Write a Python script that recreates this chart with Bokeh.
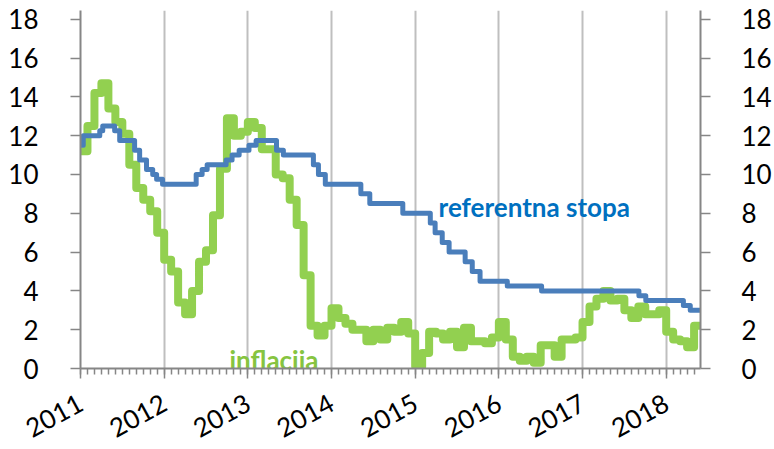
import pandas as pd
from bokeh.plotting import figure
from bokeh.models import Range1d, LinearAxis, FixedTicker
from bokeh.core.properties import value
from bokeh.embed import file_html
from bokeh.resources import INLINE

# ---- data ----
years = [2011, 2012, 2013, 2014, 2015, 2016, 2017, 2018]
y_ticks = [0, 2, 4, 6, 8, 10, 12, 14, 16, 18]

# monthly inflation, Jan 2011 .. May 2018
inflacija = [
    11.2, 12.5, 14.2, 14.7, 13.4, 12.7, 12.1, 10.5, 9.3, 8.7, 8.1, 7.0,   # 2011
    5.6, 5.0, 3.4, 2.8, 4.0, 5.5, 6.1, 7.9, 10.3, 12.9, 12.0, 12.2,       # 2012
    12.7, 12.4, 11.3, 11.3, 10.0, 9.8, 8.7, 7.4, 4.8, 2.2, 1.7, 2.2,      # 2013
    3.1, 2.6, 2.3, 2.0, 2.0, 1.4, 2.0, 1.5, 2.1, 1.9, 2.4, 1.8,           # 2014
    0.1, 0.8, 1.9, 1.8, 1.5, 1.9, 1.1, 2.1, 1.4, 1.4, 1.3, 1.6,           # 2015
    2.4, 1.5, 0.6, 0.4, 0.6, 0.3, 1.2, 1.2, 0.6, 1.5, 1.5, 1.6,           # 2016
    2.4, 3.2, 3.6, 4.0, 3.5, 3.6, 3.0, 2.6, 3.2, 2.8, 2.8, 3.0,           # 2017
    1.9, 1.5, 1.4, 1.1, 2.2,                                              # 2018
]

# key policy rate: dates of change and new rate
stopa_dates = [
    "2011-01-01", "2011-01-13", "2011-03-26", "2011-04-08", "2011-05-30",
    "2011-06-21", "2011-08-25", "2011-09-16", "2011-10-16", "2011-11-12",
    "2011-11-29", "2011-12-25", "2012-05-20", "2012-06-15", "2012-07-07",
    "2012-09-28", "2012-10-24", "2012-11-24", "2013-01-06", "2013-02-06",
    "2013-05-06", "2013-06-05", "2013-10-14", "2013-11-05", "2013-12-05",
    "2014-05-09", "2014-06-17", "2014-11-08", "2015-03-08", "2015-03-29",
    "2015-04-29", "2015-05-29", "2015-08-07", "2015-09-07", "2015-10-11",
    "2016-02-07", "2016-07-06", "2017-09-04", "2017-10-04", "2018-03-17",
    "2018-04-16", "2018-05-31",
]
stopa = [
    11.5, 12.0, 12.25, 12.5, 12.25,
    11.75, 11.25, 10.75, 10.25, 10.0,
    9.75, 9.5, 10.0, 10.25, 10.5,
    10.75, 11.0, 11.25, 11.5, 11.75,
    11.25, 11.0, 10.5, 10.0, 9.5,
    9.0, 8.5, 8.0, 7.5, 7.0,
    6.5, 6.0, 5.5, 5.0, 4.5,
    4.25, 4.0, 3.75, 3.5, 3.25,
    3.0, 3.0,
]

end_date = "2018-06-01"


def dec_year(s):
    t = pd.Timestamp(s)
    n = 366 if t.is_leap_year else 365
    return t.year + (t.dayofyear - 1) / n


x_end = dec_year(end_date)
x_infl = [2011 + m / 12 for m in range(len(inflacija))] + [x_end]
y_infl = inflacija + [inflacija[-1]]
x_stopa = [dec_year(d) for d in stopa_dates]

months = [2011 + m / 12 for m in range(0, 90)]

p = figure(width=774, height=449, output_backend="svg", toolbar_location=None,
           x_range=Range1d(2011.0, 2018.41), y_range=Range1d(0, 18.45),
           min_border_left=80, min_border_right=70, min_border_top=10,
           min_border_bottom=78)
p.outline_line_color = None
p.background_fill_color = "white"

AX = "#868686"
FONT = "Lato"

p.step(x_infl, y_infl, mode="after", line_color="#92D050", line_width=8,
       line_join="round")
p.step(x_stopa, stopa, mode="after", line_color="#4A7EBB", line_width=5,
       line_join="round")

p.text(x=[2015.28], y=[8.3], text=["referentna stopa"], text_font=value(FONT),
       text_font_style="bold", text_font_size="26px", text_color="#0070C0",
       text_baseline="alphabetic", text_align="left")
p.text(x=[2012.78], y=[0.45], text=["inflacija"], text_font=value(FONT),
       text_font_style="bold", text_font_size="26px", text_color="#86C440",
       text_baseline="alphabetic", text_align="left")

# x axis
xa = p.xaxis[0]
xa.ticker = FixedTicker(ticks=years, minor_ticks=months)
xa.major_label_orientation = 0.5
xa.minor_tick_out = 6
xa.minor_tick_in = 0
xa.minor_tick_line_color = AX
xa.minor_tick_line_width = 1.5

# y axes
ya = p.yaxis[0]
ya.ticker = FixedTicker(ticks=y_ticks)
ra = LinearAxis(ticker=FixedTicker(ticks=y_ticks))
p.add_layout(ra, "right")

for ax in [xa, ya, ra]:
    ax.axis_line_color = AX
    ax.axis_line_width = 2
    ax.major_tick_line_color = AX
    ax.major_tick_line_width = 1.5
    ax.major_tick_out = 10
    ax.major_tick_in = 0
    ax.major_label_text_font = FONT
    ax.major_label_text_font_size = "26px"
    ax.major_label_text_color = "black"
for ax in [ya, ra]:
    ax.minor_tick_line_color = None
ya.major_label_standoff = 32
ra.major_label_standoff = 31
xa.major_label_standoff = 22

p.xgrid.ticker = FixedTicker(ticks=years[1:])
p.xgrid.grid_line_color = "#BFBFBF"
p.xgrid.grid_line_width = 2
p.ygrid.grid_line_color = None

open("out.html", "w").write(file_html(p, INLINE))
